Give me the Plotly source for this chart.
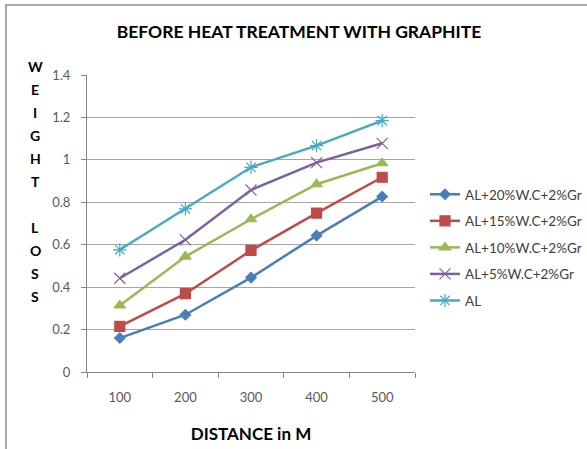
import plotly.graph_objects as go

distance = ["100", "200", "300", "400", "500"]
series_names = ["AL+20%W.C+2%Gr", "AL+15%W.C+2%Gr", "AL+10%W.C+2%Gr", "AL+5%W.C+2%Gr", "AL"]
al20 = [0.16, 0.27, 0.445, 0.643, 0.827]
al15 = [0.215, 0.369, 0.573, 0.749, 0.918]
al10 = [0.314, 0.544, 0.72, 0.885, 0.984]
al5 = [0.442, 0.623, 0.858, 0.987, 1.078]
al = [0.576, 0.769, 0.965, 1.067, 1.185]
y_ticks = [0, 0.2, 0.4, 0.6, 0.8, 1, 1.2, 1.4]
y_tick_text = ["0", "0.2", "0.4", "0.6", "0.8", "1", "1.2", "1.4"]
title_text = "BEFORE HEAT TREATMENT WITH GRAPHITE"
x_title = "DISTANCE in M"
y_title = "WEIGHT LOSS"

colors = ["#4a7ebb", "#be4b48", "#98b954", "#7d60a0", "#46aac5"]
symbols = ["diamond", "square", "triangle-up", "x-thin-open", "asterisk-open"]
msizes = [8, 10, 10, 11, 11]
data = [al20, al15, al10, al5, al]

W, H = 587, 449
L, R, T, B = 87, 172, 75, 77
pw, ph = W - L - R, H - T - B

def px2paper_x(px):
    return (px - L) / pw

def px2paper_y(py):
    return (H - B - py) / ph

FONT = "Lato, 'Open Sans', sans-serif"

fig = go.Figure()
for i, (name, vals) in enumerate(zip(series_names, data)):
    fig.add_trace(go.Scatter(
        x=distance, y=vals, name=name, mode="lines+markers",
        legendgroup=f"g{i}",
        line=dict(color=colors[i], width=2.5),
        marker=dict(symbol=symbols[i], size=msizes[i], color=colors[i],
                    line=dict(color=colors[i], width=1.2)),
    ))

annotations = []
# vertical stacked y-axis title
letters = list(y_title)
y0 = 66
step = 23
for k, ch in enumerate(letters):
    if ch == " ":
        continue
    annotations.append(dict(
        text=f"<b>{ch}</b>", x=px2paper_x(35), y=px2paper_y(y0 + k * step),
        xref="paper", yref="paper", showarrow=False, xanchor="center", yanchor="middle",
        font=dict(family=FONT, size=14, color="#000000"),
    ))

shapes = [
    dict(type="line", xref="paper", yref="paper",
         x0=px2paper_x(5), x1=px2paper_x(587), y0=px2paper_y(5), y1=px2paper_y(5),
         line=dict(color="#8c8c8c", width=1.5)),
    dict(type="line", xref="paper", yref="paper",
         x0=px2paper_x(6), x1=px2paper_x(6), y0=px2paper_y(5), y1=px2paper_y(449),
         line=dict(color="#8c8c8c", width=1.5)),
]

fig.update_layout(
    width=W, height=H,
    margin=dict(l=L, r=R, t=T, b=B, autoexpand=False),
    paper_bgcolor="white", plot_bgcolor="white",
    title=dict(text=f"<b>{title_text}</b>", xref="paper", x=px2paper_x(299), xanchor="center",
               yref="container", y=1 - 32 / H, yanchor="middle",
               font=dict(family=FONT, size=17.5, color="#000000")),
    xaxis=dict(type="category", range=[-0.5, 4.5], tickson="boundaries",
               ticks="outside", ticklen=5, tickcolor="#868686",
               showline=True, linecolor="#868686", linewidth=1,
               showgrid=False, ticklabelstandoff=13, automargin=False,
               tickfont=dict(family=FONT, size=13, color="#595959"),
               title=dict(text=f"<b>{x_title}</b>", standoff=24,
                          font=dict(family=FONT, size=17, color="#000000"))),
    yaxis=dict(range=[0, 1.4], tickvals=y_ticks, ticktext=y_tick_text,
               ticks="outside", ticklen=5, tickcolor="#868686",
               showline=True, linecolor="#868686", linewidth=1,
               showgrid=True, gridcolor="#a6a6a6", gridwidth=1,
               zeroline=False, ticklabelstandoff=8, automargin=False,
               tickfont=dict(family=FONT, size=13, color="#595959")),
    legend=dict(x=px2paper_x(425), y=px2paper_y(179), xanchor="left", yanchor="top",
                traceorder="grouped", tracegroupgap=6,
                font=dict(family=FONT, size=13.5, color="#404040"),
                bgcolor="rgba(0,0,0,0)", itemwidth=30),
    annotations=annotations,
    shapes=shapes,
)

fig.write_html("out.html")
